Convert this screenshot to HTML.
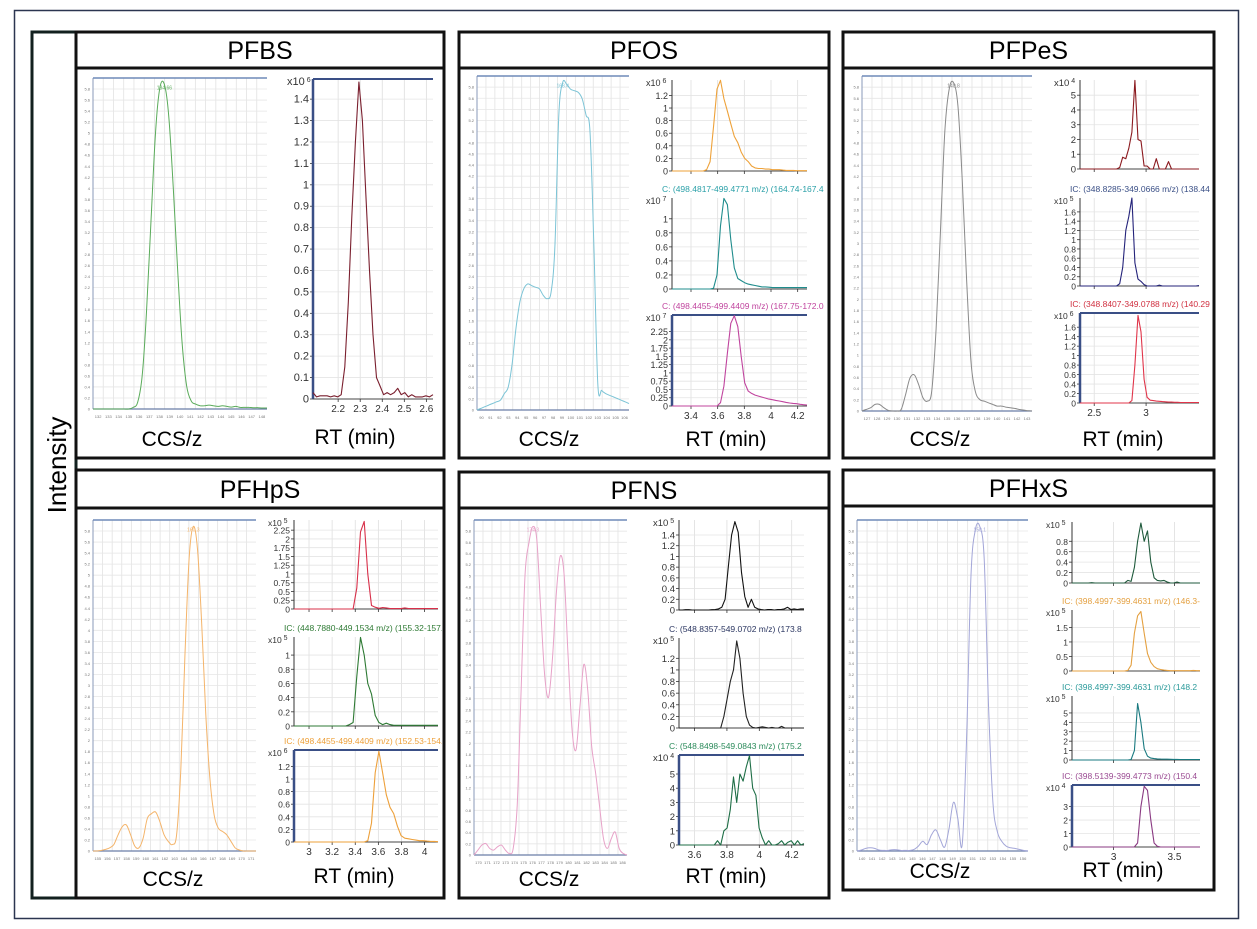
<!DOCTYPE html>
<html><head><meta charset="utf-8"><style>
html,body{margin:0;padding:0;background:#fff;}
svg{display:block;font-family:"Liberation Sans",sans-serif;}
</style></head><body>
<svg id="fig" width="1257" height="929" viewBox="0 0 1257 929" xmlns="http://www.w3.org/2000/svg">
<rect x="14.5" y="10.5" width="1224" height="908" fill="none" stroke="#2b3550" stroke-width="1.5"/>
<rect x="32" y="32" width="44" height="866" fill="#fff" stroke="#12201f" stroke-width="3"/>
<text x="0" y="0" transform="translate(66,465) rotate(-90)" text-anchor="middle" font-size="26" fill="#000">Intensity</text>
</svg>
<script>
// ===== Data (CCS values normalised, RT values in axis units) =====
const ccsPFBS=[0,0,0,0,0,0,0,0,0,0.005,0.02,0.1,0.3,0.58,0.85,0.99,1.0,0.9,0.68,0.42,0.2,0.07,0.025,0.015,0.01,0.01,0.012,0.01,0.008,0.01,0.008,0.006,0.008,0.005,0.005,0.005,0.004,0.004,0.003,0.003];
const ccsPFOS=[0,0.005,0.01,0.015,0.02,0.025,0.03,0.05,0.07,0.14,0.25,0.33,0.37,0.385,0.38,0.375,0.37,0.35,0.34,0.36,0.5,0.9,1.0,0.995,0.98,0.975,0.97,0.95,0.9,0.85,0.5,0.08,0.06,0.05,0.045,0.04,0.035,0.03,0.025,0.02];
const ccsPFPeS=[0,0.005,0.01,0.02,0.02,0.01,0.002,0,0,0.005,0.05,0.1,0.11,0.08,0.04,0.03,0.06,0.25,0.55,0.85,0.98,1.0,0.93,0.7,0.4,0.15,0.06,0.035,0.03,0.025,0.02,0.015,0.015,0.012,0.01,0.008,0.005,0.003,0.001,0];
const ccsPFHpS=[0,0,0.002,0.005,0.01,0.02,0.05,0.075,0.08,0.05,0.015,0.01,0.04,0.1,0.115,0.12,0.09,0.05,0.03,0.02,0.05,0.25,0.6,0.9,1.0,0.93,0.7,0.42,0.22,0.11,0.07,0.06,0.05,0.03,0.01,0.003,0,0,0,0];
const ccsPFNS=[0,0.015,0.03,0.035,0.02,0.015,0.025,0.03,0.015,0.005,0.02,0.15,0.5,0.85,0.95,1.0,0.96,0.75,0.55,0.48,0.6,0.8,0.91,0.85,0.6,0.38,0.32,0.45,0.58,0.5,0.33,0.25,0.15,0.05,0.02,0.05,0.07,0.02,0.005,0];
const ccsPFHxS=[0,0.003,0.008,0.01,0.008,0.003,0.002,0.002,0.004,0.004,0.002,0.002,0.002,0.005,0.015,0.03,0.02,0.05,0.065,0.035,0.012,0.07,0.15,0.1,0.02,0.35,0.85,0.99,1.0,0.9,0.45,0.15,0.06,0.03,0.015,0.01,0.008,0.005,0.002,0];

const rtPFBS=[0.03,0.01,0.015,0.015,0.015,0.01,0.015,0.01,0.02,0.15,0.45,0.85,1.2,1.48,1.3,0.95,0.6,0.3,0.1,0.06,0.02,0.03,0.02,0.03,0.05,0.02,0.03,0.01,0.02,0.01,0.01,0.01,0.015,0.01,0.02];
const rtPFOS1=[0,0,0,0,0,0,0,0,0,0,0.02,0.15,0.7,1.3,1.44,1.15,0.95,0.75,0.55,0.45,0.3,0.2,0.15,0.08,0.05,0.04,0.04,0.03,0.03,0.02,0.02,0.02,0.015,0.01,0.01,0.01,0.005,0.005,0.005,0.005];
const rtPFOS2=[0,0,0,0,0,0,0,0,0,0,0,0,0.01,0.2,0.9,1.29,1.2,0.7,0.3,0.15,0.12,0.09,0.07,0.06,0.05,0.04,0.03,0.03,0.025,0.02,0.02,0.02,0.02,0.02,0.02,0.02,0.02,0.02,0.02,0.02];
const rtPFOS3=[0,0,0,0,0,0,0,0,0,0,0,0,0,0,0.1,0.6,1.6,2.5,2.73,2.4,1.5,0.7,0.45,0.38,0.33,0.3,0.27,0.24,0.21,0.19,0.17,0.15,0.13,0.11,0.09,0.08,0.07,0.05,0.04,0.03];
const rtPFPeS1=[0,0,0,0,0,0,0,0,0,0,0,0,0,0.1,0.8,0.7,1.4,2.5,6.0,2.0,1.9,0.2,0.2,0,0,0.7,0,0,0,0.5,0,0,0,0,0,0,0,0,0,0];
const rtPFPeS2=[0,0,0,0,0,0,0,0,0,0,0,0,0,0.05,0.4,1.2,1.5,1.9,0.5,0.15,0.1,0.03,0,0,0,0,0.02,0,0,0,0,0,0,0,0,0,0,0,0,0.01];
const rtPFPeS3=[0,0,0,0,0,0,0,0,0,0,0,0,0,0,0,0,0,0.05,0.8,1.85,1.5,0.5,0.12,0.06,0.05,0.04,0.035,0.03,0.025,0.02,0.02,0.015,0.015,0.01,0.01,0.01,0.01,0.01,0.01,0.01];
const rtPFHpS1=[0,0,0,0,0,0,0,0,0,0,0,0,0,0,0,0,0,0.6,2.2,2.5,1.0,0.1,0.05,0.02,0.04,0.03,0.01,0.01,0.01,0.01,0.03,0.01,0.01,0.01,0.01,0.01,0.01,0.01,0.01,0.01];
const rtPFHpS2=[0,0,0,0,0,0,0,0,0,0,0,0,0,0,0,0.02,0.05,0.7,1.25,1.0,0.6,0.45,0.15,0.05,0.02,0.04,0.02,0.01,0.01,0.01,0.01,0.01,0.01,0.01,0.01,0.01,0.01,0.01,0.01,0.01];
const rtPFHpS3=[0,0,0,0,0,0,0,0,0,0,0,0,0,0,0,0,0,0,0,0,0.02,0.3,1.1,1.44,1.1,0.75,0.55,0.45,0.25,0.1,0.06,0.05,0.04,0.03,0.02,0.02,0.015,0.01,0.01,0.005];
const rtPFNS1=[0,0,0.005,0.005,0,0,0,0,0,0,0.005,0.01,0.02,0.05,0.2,0.8,1.4,1.65,1.45,0.7,0.25,0.05,0.2,0.05,0.02,0.01,0,0.01,0.01,0,0.01,0.01,0.02,0.05,0.01,0.02,0.01,0.02,0.02];
const rtPFNS2=[0,0,0,0,0,0,0,0,0,0,0,0,0,0,0.2,0.5,0.8,1.0,1.5,1.2,0.6,0.2,0.05,0.01,0,0.01,0.02,0.01,0,0.01,0,0,0.03,0,0,0,0,0,0,0];
const rtPFNS3=[0,0,0,0,0,0,0,0,0,0,0,0,0.3,0,1.0,1.2,2.5,4.8,3.0,5.0,4.5,5.5,6.3,4.0,3.5,1.2,0.5,0,0.3,0,0,0.1,0.3,0,0.2,0.3,0,0.3,0,0.1];
const rtPFHxS1=[0,0,0,0,0,0,0.005,0,0,0,0,0,0,0,0,0,0,0.05,0.03,0.3,0.8,1.15,0.8,1.0,0.4,0.1,0.05,0.04,0.05,0.02,0,0,0.02,0,0,0,0,0,0,0];
const rtPFHxS2=[0,0,0,0,0,0,0,0,0,0,0,0,0,0,0,0,0,0.02,0.2,1.3,1.9,2.05,1.3,0.6,0.3,0.15,0.08,0.05,0.03,0.02,0.01,0.01,0.01,0.01,0.01,0.01,0.01,0.02,0.01,0.01];
const rtPFHxS3=[0,0,0,0,0,0,0,0,0,0,0,0,0,0,0,0,0,0,0.05,1.0,6.0,4.0,1.2,0.4,0.2,0.15,0.12,0.1,0.09,0.08,0.07,0.06,0.06,0.05,0.05,0.05,0.05,0.05,0.05,0.05];
const rtPFHxS4=[0,0,0,0,0,0,0,0,0,0,0,0,0,0,0,0,0,0,0,0.01,0.3,3.0,4.5,4.2,2.0,0.3,0.05,0,0,0,0,0,0,0,0,0,0,0,0,0];

const ticksRtPFBS=[2.2,2.3,2.4,2.5,2.6];
const ticksRtPFOS=[3.4,3.6,3.8,4,4.2];
const ticksRtPFPeS=[2.5,3];
const ticksRtPFHpS=[3,3.2,3.4,3.6,3.8,4];
const ticksRtPFNS=[3.6,3.8,4,4.2];
const ticksRtPFHxS=[3,3.5];
const yTicksPFBS=[0,0.1,0.2,0.3,0.4,0.5,0.6,0.7,0.8,0.9,1,1.1,1.2,1.3,1.4];
const yTicksA=[0,0.2,0.4,0.6,0.8,1,1.2];
const yTicksB=[0,0.2,0.4,0.6,0.8,1];
const yTicksC=[0,0.25,0.5,0.75,1,1.25,1.5,1.75,2,2.25];
const yTicksD=[0,1,2,3,4,5];
const yTicksE=[0,0.2,0.4,0.6,0.8,1,1.2,1.4,1.6];
const yTicksF=[0,0.2,0.4,0.6,0.8,1,1.2,1.4];
const yTicksG=[0,0.2,0.4,0.6,0.8];
const yTicksH=[0,0.5,1,1.5];
const yTicksI=[0,1,2,3];

const NS='http://www.w3.org/2000/svg';
const fig=document.getElementById('fig');
function mk(tag,attrs,parent){const e=document.createElementNS(NS,tag);for(const k in attrs)e.setAttribute(k,attrs[k]);(parent||fig).appendChild(e);return e;}
function fmt(v){return (Math.round(v*100)/100).toString();}
function smoothPath(pts){
  let d='M'+pts[0][0].toFixed(1)+','+pts[0][1].toFixed(1);
  for(let i=0;i<pts.length-1;i++){
    const p0=pts[Math.max(0,i-1)],p1=pts[i],p2=pts[i+1],p3=pts[Math.min(pts.length-1,i+2)];
    const c1=[p1[0]+(p2[0]-p0[0])/6,p1[1]+(p2[1]-p0[1])/6];
    const c2=[p2[0]-(p3[0]-p1[0])/6,p2[1]-(p3[1]-p1[1])/6];
    d+='C'+c1[0].toFixed(1)+','+c1[1].toFixed(1)+' '+c2[0].toFixed(1)+','+c2[1].toFixed(1)+' '+p2[0].toFixed(1)+','+p2[1].toFixed(1);
  }
  return d;
}

function drawCCS(g,c){
  const {x,y,w,h,vals,color}=c;
  const sx=i=>x+i/(vals.length-1)*w;
  const sy=v=>y+h-v/1.02*h;
  for(let i=1;i<17;i++){mk('line',{x1:x+i*w/17,x2:x+i*w/17,y1:y,y2:y+h,stroke:'#e2e2e2','stroke-width':0.8},g);}
  for(let j=1;j<30;j++){mk('line',{x1:x,x2:x+w,y1:y+j*h/30,y2:y+j*h/30,stroke:'#e6e6e6','stroke-width':0.8},g);}
  for(let j=0;j<30;j++){const t=mk('text',{x:x-3,y:y+h-j*h/30+1.5,'text-anchor':'end','font-size':4,fill:'#777'},g);t.textContent=fmt(j*0.2);}
  for(let i=0;i<17;i++){const t=mk('text',{x:x+(i+0.5)*w/17,y:y+h+9,'text-anchor':'middle','font-size':4,fill:'#777'},g);t.textContent=String(c.x0+i);}
  mk('line',{x1:x,x2:x,y1:y,y2:y+h,stroke:'#8a9ab8','stroke-width':1},g);
  mk('line',{x1:x,x2:x+w,y1:y+h,y2:y+h,stroke:'#6a7ea8','stroke-width':1.2},g);
  mk('line',{x1:x,x2:x+w,y1:y,y2:y,stroke:'#6f8ab8','stroke-width':1.5},g);
  const pts=vals.map((v,i)=>[sx(i),sy(v)]);
  const p=mk('path',{d:smoothPath(pts),fill:'none',stroke:color,'stroke-width':1,'stroke-linejoin':'round'},g);
  
  
  let mi=0;vals.forEach((v,i)=>{if(v>vals[mi])mi=i;});
  const lt=mk('text',{x:sx(mi),y:sy(vals[mi])+5,'text-anchor':'middle','font-size':5,fill:color},g);lt.textContent=c.peakLabel;
}

function drawRT(g,c){
  const {x,y,w,h,t0,t1,yMax,vals,yTicks,xTicks,color}=c;
  const sx=t=>x+(t-t0)/(t1-t0)*w;
  const sy=v=>y+h-v/yMax*h;
  if(c.header){const ht=mk('text',{x:x-10,y:y-6,'font-size':8.5,fill:c.headerColor},g);ht.textContent=c.header;
    
    }
  xTicks.forEach(t=>{mk('line',{x1:sx(t),x2:sx(t),y1:y,y2:y+h,stroke:'#dedede','stroke-width':0.8},g);});
  yTicks.forEach(v=>{mk('line',{x1:x,x2:x+w,y1:sy(v),y2:sy(v),stroke:'#e4e4e4','stroke-width':0.8},g);
    mk('line',{x1:x-3,x2:x,y1:sy(v),y2:sy(v),stroke:'#333','stroke-width':0.8},g);
    const t=mk('text',{x:x-4,y:sy(v)+3.5,'text-anchor':'end','font-size':c.fs||10,fill:'#333'},g);t.textContent=fmt(v);});
  const ex=mk('text',{x:x-26,y:y+6,'font-size':c.fs||10,fill:'#333'},g);ex.textContent='x10';
  const ee=mk('tspan',{dy:-3,'font-size':7},ex);ee.textContent=' '+c.exp;
  mk('line',{x1:x,x2:x,y1:y,y2:y+h,stroke:c.blue?'#3a4f86':'#333','stroke-width':c.blue?2.5:1},g);
  mk('line',{x1:x,x2:x+w,y1:y+h,y2:y+h,stroke:'#444','stroke-width':1},g);
  if(c.blue)mk('line',{x1:x,x2:x+w,y1:y,y2:y,stroke:'#3a4f86','stroke-width':2},g);
  xTicks.forEach(t=>{mk('line',{x1:sx(t),x2:sx(t),y1:y+h,y2:y+h+3,stroke:'#333','stroke-width':0.8},g);});
  if(c.showX){xTicks.forEach(t=>{const tt=mk('text',{x:sx(t),y:y+h+13,'text-anchor':'middle','font-size':10,fill:'#333'},g);tt.textContent=fmt(t);});}
  let d='';const n=vals.length;vals.forEach((v,i)=>{const t=t0+i*(t1-t0)/(n-1);d+=(i?'L':'M')+sx(t).toFixed(1)+','+sy(v).toFixed(1);});
  const p=mk('path',{d:d,fill:'none',stroke:color,'stroke-width':1.1,'stroke-linejoin':'round'},g);
  
  
}

function panel(name,tb,cb,ccs,rts,lab){
  const g=mk('g',{});
  
  
  const cid='clip-'+name;
  const cp=mk('clipPath',{id:cid},g);mk('rect',{x:cb[0]+2,y:cb[1]+2,width:cb[2]-cb[0]-4,height:cb[3]-cb[1]-4},cp);
  const r1=mk('rect',{x:tb[0],y:tb[1],width:tb[2]-tb[0],height:tb[3]-tb[1],fill:'#fff',stroke:'#111','stroke-width':3},g);
  
  
  const t=mk('text',{x:(tb[0]+tb[2])/2,y:(tb[1]+tb[3])/2+9,'text-anchor':'middle','font-size':25,fill:'#000'},g);t.textContent=name;
  
  
  const inner=mk('g',{'clip-path':'url(#'+cid+')'},g);
  drawCCS(inner,ccs);
  rts.forEach(r=>drawRT(inner,r));
  const a=mk('text',{x:lab[0],y:lab[2],'text-anchor':'middle','font-size':21,fill:'#000'},g);a.textContent='CCS/z';
  
  
  const b=mk('text',{x:lab[1],y:lab[3],'text-anchor':'middle','font-size':21,fill:'#000'},g);b.textContent='RT (min)';
  
  
  mk('rect',{x:cb[0],y:cb[1],width:cb[2]-cb[0],height:cb[3]-cb[1],fill:'none',stroke:'#111','stroke-width':3},g);
}

panel('PFBS',[76,32,444,68],[76,68,444,458],
 {x:93,y:78,w:174,h:331,vals:ccsPFBS,color:'#5aab5a',x0:132,peakLabel:'134.66'},
 [{x:313,y:79,w:120,h:320,t0:2.086,t1:2.63,yMax:1.494,vals:rtPFBS,yTicks:yTicksPFBS,xTicks:ticksRtPFBS,color:'#7a1f2e',exp:6,blue:true,showX:true,fs:11}],
 [172,355,446,444]);

panel('PFOS',[459,32,829,68],[459,68,829,458],
 {x:477,y:76,w:152,h:334,vals:ccsPFOS,color:'#7cc4d6',x0:90,peakLabel:'168.4'},
 [{x:672,y:80,w:135,h:91,t0:3.2575,t1:4.27,yMax:1.445,vals:rtPFOS1,yTicks:yTicksA,xTicks:ticksRtPFOS,color:'#eea23a',exp:6,fs:9},
  {x:672,y:198,w:135,h:91,t0:3.2575,t1:4.27,yMax:1.296,vals:rtPFOS2,yTicks:yTicksB,xTicks:ticksRtPFOS,color:'#1f8c8c',exp:7,fs:9,header:'C: (498.4817-499.4771 m/z) (164.74-167.4',headerColor:'#2aa0a8'},
  {x:672,y:315,w:135,h:91,t0:3.2575,t1:4.27,yMax:2.75,vals:rtPFOS3,yTicks:yTicksC,xTicks:ticksRtPFOS,color:'#c0449e',exp:7,fs:9,blue:true,showX:true,header:'C: (498.4455-499.4409 m/z) (167.75-172.0',headerColor:'#c0449e'}],
 [549,726,446,446]);

panel('PFPeS',[843,32,1214,68],[843,68,1214,458],
 {x:862,y:76,w:170,h:335,vals:ccsPFPeS,color:'#8a8a8a',x0:127,peakLabel:'140.8'},
 [{x:1080,y:80,w:119,h:89,t0:2.363,t1:3.51,yMax:6.03,vals:rtPFPeS1,yTicks:yTicksD,xTicks:ticksRtPFPeS,color:'#8b1a1f',exp:4,fs:9.5},
  {x:1080,y:198,w:119,h:88,t0:2.363,t1:3.51,yMax:1.9,vals:rtPFPeS2,yTicks:yTicksE,xTicks:ticksRtPFPeS,color:'#24237a',exp:5,fs:8.5,header:'IC: (348.8285-349.0666 m/z) (138.44',headerColor:'#3a4f86'},
  {x:1080,y:313,w:119,h:90,t0:2.363,t1:3.51,yMax:1.9,vals:rtPFPeS3,yTicks:yTicksE,xTicks:ticksRtPFPeS,color:'#e0354a',exp:6,fs:8.5,blue:true,showX:true,header:'IC: (348.8407-349.0788 m/z) (140.29',headerColor:'#d03040'}],
 [940,1123,446,446]);

panel('PFHpS',[76,470,444,508],[76,508,444,898],
 {x:93,y:520,w:163,h:331,vals:ccsPFHpS,color:'#f4b46a',x0:155,peakLabel:'160.3'},
 [{x:294,y:520,w:144,h:89,t0:2.87,t1:4.116,yMax:2.54,vals:rtPFHpS1,yTicks:yTicksC,xTicks:ticksRtPFHpS,color:'#d8304a',exp:5,fs:8.5},
  {x:294,y:637,w:144,h:89,t0:2.87,t1:4.116,yMax:1.255,vals:rtPFHpS2,yTicks:yTicksB,xTicks:ticksRtPFHpS,color:'#2e7a34',exp:5,fs:8.5,header:'IC: (448.7880-449.1534 m/z) (155.32-157.26 ms) - 2',headerColor:'#2e7a34'},
  {x:294,y:750,w:144,h:92,t0:2.87,t1:4.116,yMax:1.46,vals:rtPFHpS3,yTicks:yTicksA,xTicks:ticksRtPFHpS,color:'#eda03a',exp:6,fs:8.5,blue:true,showX:true,header:'IC: (498.4455-499.4409 m/z) (152.53-154.96 ms) - 2',headerColor:'#eda03a'}],
 [173,354,886,883]);

panel('PFNS',[459,472,829,508],[459,508,829,898],
 {x:474,y:520,w:153,h:335,vals:ccsPFNS,color:'#e7a2c8',x0:170,peakLabel:'174.3'},
 [{x:679,y:520,w:125,h:90,t0:3.504,t1:4.276,yMax:1.68,vals:rtPFNS1,yTicks:yTicksF,xTicks:ticksRtPFNS,color:'#111',exp:5,fs:9.5},
  {x:679,y:638,w:125,h:90,t0:3.504,t1:4.276,yMax:1.55,vals:rtPFNS2,yTicks:yTicksA,xTicks:ticksRtPFNS,color:'#222',exp:5,fs:9.5,header:'C: (548.8357-549.0702 m/z) (173.8',headerColor:'#2a3560'},
  {x:679,y:755,w:125,h:90,t0:3.504,t1:4.276,yMax:6.34,vals:rtPFNS3,yTicks:yTicksD,xTicks:ticksRtPFNS,color:'#1e6e46',exp:4,fs:9.5,blue:true,showX:true,header:'C: (548.8498-549.0843 m/z) (175.2',headerColor:'#2a8a5a'}],
 [549,726,886,883]);

panel('PFHxS',[843,470,1214,506],[843,506,1214,890],
 {x:857,y:520,w:171,h:331,vals:ccsPFHxS,color:'#a3a6d8',x0:140,peakLabel:'150.1'},
 [{x:1072,y:522,w:128,h:61,t0:2.658,t1:3.71,yMax:1.17,vals:rtPFHxS1,yTicks:yTicksG,xTicks:ticksRtPFHxS,color:'#1f5a3c',exp:5,fs:8.5},
  {x:1072,y:610,w:128,h:61,t0:2.658,t1:3.71,yMax:2.1,vals:rtPFHxS2,yTicks:yTicksH,xTicks:ticksRtPFHxS,color:'#e4a040',exp:5,fs:8.5,header:'IC: (398.4997-399.4631 m/z) (146.3-',headerColor:'#e4a040'},
  {x:1072,y:696,w:128,h:64,t0:2.658,t1:3.71,yMax:6.8,vals:rtPFHxS3,yTicks:yTicksD,xTicks:ticksRtPFHxS,color:'#1a7a80',exp:5,fs:8.5,header:'IC: (398.4997-399.4631 m/z) (148.2',headerColor:'#2a9a9a'},
  {x:1072,y:785,w:128,h:62,t0:2.658,t1:3.71,yMax:4.6,vals:rtPFHxS4,yTicks:yTicksI,xTicks:ticksRtPFHxS,color:'#8a3a82',exp:4,fs:8.5,blue:true,showX:true,header:'IC: (398.5139-399.4773 m/z) (150.4',headerColor:'#9a4a92'}],
 [940,1123,878,877]);
</script>
</body></html>
